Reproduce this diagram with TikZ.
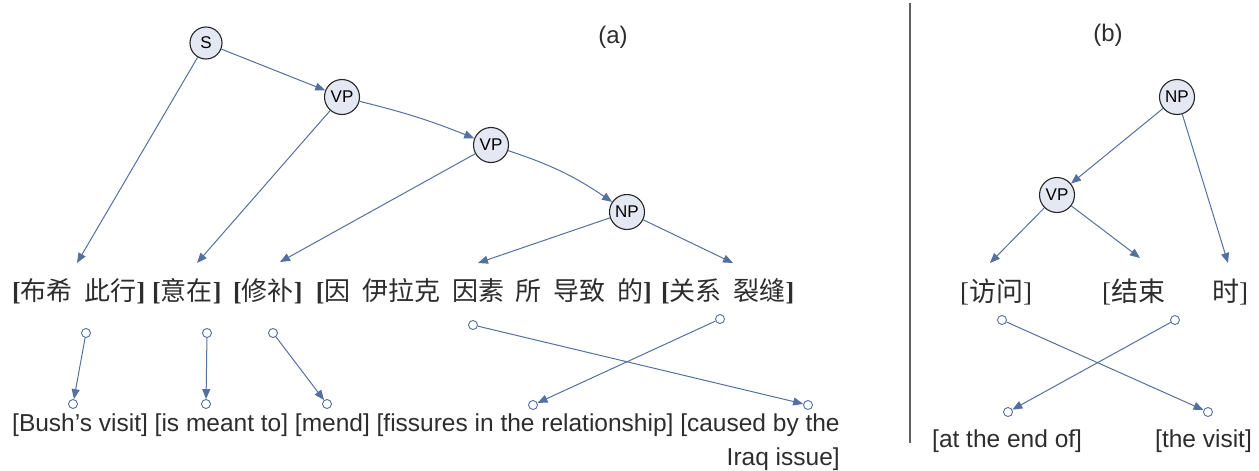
\documentclass[tikz,border=0pt]{standalone}
\usepackage{fontspec}
\setmainfont{Liberation Sans}
\newfontfamily\cjk{Noto Sans CJK SC}
\newfontfamily\brkfont{Liberation Serif}
\usetikzlibrary{arrows.meta}
\definecolor{edgeblue}{RGB}{84,112,160}
\definecolor{nodefill}{RGB}{228,232,242}
\definecolor{txtgray}{RGB}{45,45,45}
\definecolor{sepgray}{RGB}{95,95,95}
\newcommand{\lbk}{{\brkfont\bfseries[}}
\newcommand{\rbk}{{\brkfont\bfseries]}}
\newcommand{\lbt}{{\brkfont[}}
\newcommand{\rbt}{{\brkfont]}}
\newcommand{\wgap}{\hspace{0.45em}}
\begin{document}
\begin{tikzpicture}[x=1pt,y=-1pt,
  cat/.style={circle,draw=black!85,fill=nodefill,line width=1.1pt,minimum size=35pt,inner sep=0pt,font=\fontsize{17}{17}\selectfont},
  arr/.style={draw=edgeblue,line width=1pt,-{Triangle[length=10pt,width=8pt]}},
  tailc/.style={circle,draw=edgeblue,fill=white,line width=0.9pt,minimum size=9pt,inner sep=0pt},
  zh/.style={inner sep=0pt,anchor=west,text=txtgray,font=\cjk\fontsize{26}{26}\selectfont},
  zhb/.style={inner sep=0pt,anchor=west,text=txtgray,font=\cjk\fontsize{27}{27}\selectfont},
  en/.style={inner sep=0pt,text=txtgray,font=\fontsize{24.5}{24.5}\selectfont},
  enb/.style={inner sep=0pt,anchor=base west,text=txtgray,font=\fontsize{24.5}{24.5}\selectfont},
  lab/.style={inner sep=0pt,text=txtgray,font=\fontsize{24}{24}\selectfont}]
\useasboundingbox (0,0) rectangle (1259,471);

% ---------- (a) ----------
\node[lab] (la) at (613,37) {(a)};
\node[cat,minimum size=32pt] (S) at (206,43) {S};
\node[cat] (VP1) at (342,97) {VP};
\node[cat] (VP2) at (491,145) {VP};
\node[cat] (NPa) at (627,212) {NP};

\node[zh] (g1) at (12,291) {\lbk 布希\wgap 此行\rbk};
\node[zh] (g2) at (152,291) {\lbk 意在\rbk};
\node[zh] (g3) at (233,291) {\lbk 修补\rbk};
\node[zh,anchor=east] (g4) at (652,291) {\lbk 因\wgap 伊拉克\wgap 因素\wgap 所\wgap 导致\wgap 的\rbk};
\node[zh] (g5) at (661,291) {\lbk 关系\wgap 裂缝\rbk};

\coordinate (t1) at (77,263);
\coordinate (t2) at (197,263);
\coordinate (t3) at (280,262);
\coordinate (t4) at (478,263);
\coordinate (t5) at (733,263);

\draw[arr] (S) -- (t1);
\draw[arr] (S) -- (VP1);
\draw[arr] (VP1) -- (t2);
\draw[arr] (VP1) to[bend left=4] (VP2);
\draw[arr] (VP2) -- (t3);
\draw[arr] (VP2) to[bend left=8] (NPa);
\draw[arr] (NPa) -- (t4);
\draw[arr] (NPa) -- (t5);

\node[tailc] (c1) at (86,333) {};
\node[tailc] (c2) at (207,333) {};
\node[tailc] (c3) at (273,333) {};
\node[tailc] (c4) at (473,325) {};
\node[tailc] (c5) at (720,319) {};
\node[tailc] (d1) at (73,404) {};
\node[tailc] (d2) at (206,404) {};
\node[tailc] (d3) at (327,404) {};
\node[tailc] (d4) at (533,405) {};
\node[tailc] (d5) at (808,405) {};

\draw[arr] (c1) -- (d1);
\draw[arr] (c2) -- (d2);
\draw[arr] (c3) -- (d3);
\draw[arr] (c4) -- (d5);
\draw[arr] (c5) -- (d4);

\node[en,anchor=base west] (e1) at (12,431) {[Bush's visit] [is meant to] [mend] [fissures in the relationship] [caused by the};
\node[en,anchor=base east] (e2) at (e1.base east) [yshift=-34pt] {Iraq issue]};

% ---------- separator ----------
\coordinate (sepT) at (910,3);
\coordinate (sepB) at (910,443);
\draw[sepgray,line width=2pt] (sepT) -- (sepB);

% ---------- (b) ----------
\node[lab] (lb) at (1108,35) {(b)};
\node[cat] (NPb) at (1177,97) {NP};
\node[cat] (VPb) at (1057,195) {VP};

\node[zhb] (h1) at (960,292) {\lbt 访问\rbt};
\node[zhb] (h2) at (1102,292) {\lbt 结束};
\node[zhb] (h3) at (1212,292) {时\rbt};

\coordinate (u1) at (990,263);
\coordinate (u2) at (1140,258);
\coordinate (u3) at (1228,263);

\draw[arr] (NPb) -- (VPb);
\draw[arr] (VPb) -- (u1);
\draw[arr] (VPb) -- (u2);
\draw[arr] (NPb) -- (u3);

\node[tailc] (cb1) at (1002,320) {};
\node[tailc] (cb2) at (1175,320) {};
\node[tailc] (db1) at (1008,412) {};
\node[tailc] (db2) at (1208,412) {};

\draw[arr] (cb1) -- (db2);
\draw[arr] (cb2) -- (db1);

\node[enb] (f1) at (932,447) {[at the end of]};
\node[enb] (f2) at (1155,447) {[the visit]};
\end{tikzpicture}
\end{document}
